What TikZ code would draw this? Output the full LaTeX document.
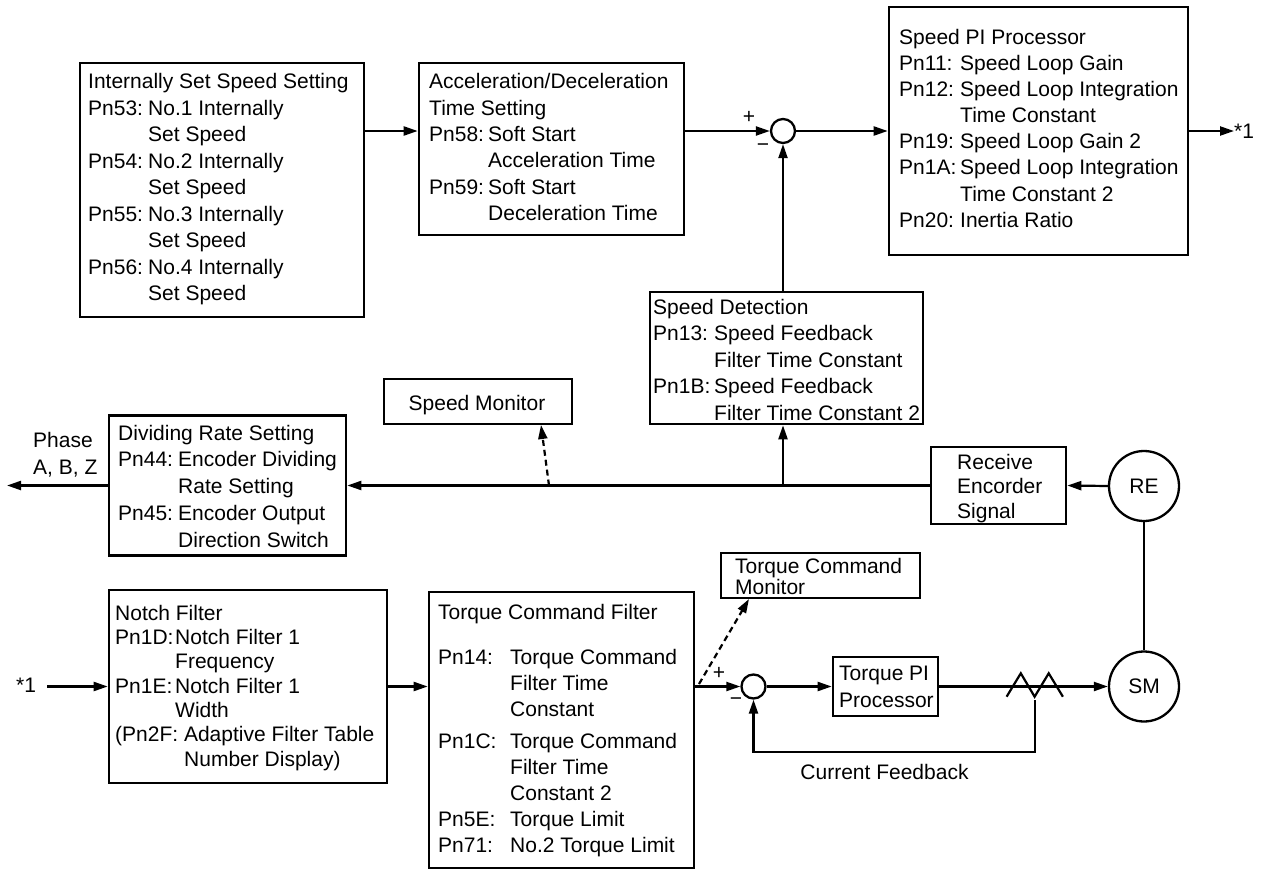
\documentclass[tikz,border=0pt]{standalone}
\usepackage{fontspec}
\setmainfont{Liberation Sans}
\usetikzlibrary{arrows.meta,calc}
\newcommand{\myfs}[1]{\fontsize{21pt}{#1pt}\selectfont}
\newcommand{\pnlab}[2]{\makebox[#1][l]{#2}}
\begin{document}
\begin{tikzpicture}[x=1pt,y=-1pt,
  box/.style={draw, line width=2.6pt, inner sep=0pt, rectangle},
  txt/.style={inner sep=0pt, anchor=north west, align=left},
  lbl/.style={inner sep=0pt, font=\myfs{26}},
  arr/.style={line width=2.2pt, -{Triangle[length=14pt,width=9pt]}},
  conn/.style={line width=2.2pt},
  darr/.style={arr, dash pattern=on 6pt off 4pt},
  sumc/.style={draw, circle, line width=2.3pt, minimum size=24pt, inner sep=0pt},
  bigc/.style={draw, circle, line width=2.3pt, minimum size=70pt, inner sep=0pt, font=\myfs{26}}]
\useasboundingbox (0,0) rectangle (1264,870);

% ---------- boxes ----------
\node[box, minimum width=284pt, minimum height=254pt] (b1) at (222,190) {};
\node[box, minimum width=265pt, minimum height=172pt] (b2) at (551.5,149) {};
\node[box, minimum width=299pt, minimum height=248pt] (spi) at (1038.5,131) {};
\node[box, minimum width=273pt, minimum height=132pt] (sdet) at (786.5,358) {};
\node[box, minimum width=188pt, minimum height=45pt] (smon) at (478,401.5) {};
\node[box, minimum width=237pt, minimum height=140pt] (div) at (227.5,485.5) {};
\node[box, minimum width=135pt, minimum height=77pt] (rec) at (998.5,485.5) {};
\node[box, minimum width=278pt, minimum height=193pt] (notch) at (248,686.5) {};
\node[box, minimum width=265pt, minimum height=276pt] (tcf) at (561.5,730) {};
\node[box, minimum width=199pt, minimum height=45pt] (tcm) at (820.5,575.5) {};
\node[box, minimum width=105pt, minimum height=59pt] (tpi) at (885.5,686.5) {};

\node[sumc] (s1) at (783,131) {};
\node[sumc] (s2) at (753.5,686.5) {};
\node[bigc] (re) at (1144,486) {RE};
\node[bigc] (sm) at (1144,686.5) {SM};

% ---------- texts ----------
\node[txt, font=\myfs{26.5}] (t1) at (88,72.7) {\rule{0pt}{16pt}Internally Set Speed Setting\\
\pnlab{60pt}{Pn53:}No.1 Internally\\ \hspace*{60pt}Set Speed\\
\pnlab{60pt}{Pn54:}No.2 Internally\\ \hspace*{60pt}Set Speed\\
\pnlab{60pt}{Pn55:}No.3 Internally\\ \hspace*{60pt}Set Speed\\
\pnlab{60pt}{Pn56:}No.4 Internally\\ \hspace*{60pt}Set Speed};

\node[txt, font=\myfs{26.3}] (t2) at (429,72.7) {\rule{0pt}{16pt}Acceleration/Deceleration\\
Time Setting\\
\pnlab{59pt}{Pn58:}Soft Start\\ \hspace*{59pt}Acceleration Time\\
\pnlab{59pt}{Pn59:}Soft Start\\ \hspace*{59pt}Deceleration Time};

\node[txt, font=\myfs{26.15}] (t3) at (899,28) {\rule{0pt}{16pt}Speed PI Processor\\
\pnlab{61pt}{Pn11:}Speed Loop Gain\\
\pnlab{61pt}{Pn12:}Speed Loop Integration\\ \hspace*{61pt}Time Constant\\
\pnlab{61pt}{Pn19:}Speed Loop Gain 2\\
\pnlab{61pt}{Pn1A:}Speed Loop Integration\\ \hspace*{61pt}Time Constant 2\\
\pnlab{61pt}{Pn20:}Inertia Ratio};

\node[txt, font=\myfs{26.5}] (t4) at (653,298) {\rule{0pt}{16pt}Speed Detection\\
\pnlab{61pt}{Pn13:}Speed Feedback\\ \hspace*{61pt}Filter Time Constant\\
\pnlab{61pt}{Pn1B:}Speed Feedback\\ \hspace*{61pt}Filter Time Constant 2};

\node[lbl, anchor=base] (t5) at (477,410) {Speed Monitor};

\node[txt, font=\myfs{26.7}] (t6) at (118,424) {\rule{0pt}{16pt}Dividing Rate Setting\\
\pnlab{60pt}{Pn44:}Encoder Dividing\\ \hspace*{60pt}Rate Setting\\
\pnlab{60pt}{Pn45:}Encoder Output\\ \hspace*{60pt}Direction Switch};

\node[txt, font=\myfs{27}] (ph) at (33,431) {\rule{0pt}{16pt}Phase\\A, B, Z};

\node[txt, font=\myfs{24.5}] (t7) at (957,453) {\rule{0pt}{16pt}Receive\\Encorder\\Signal};

\node[txt, font=\myfs{24.3}] (t8) at (115,604) {\rule{0pt}{16pt}Notch Filter\\
\pnlab{60pt}{Pn1D:}Notch Filter 1\\ \hspace*{60pt}Frequency\\
\pnlab{60pt}{Pn1E:}Notch Filter 1\\ \hspace*{60pt}Width\\
(Pn2F: Adaptive Filter Table\\ \hspace*{69pt}Number Display)};

\node[txt, font=\myfs{25.8}] (t9) at (438,603) {\rule{0pt}{16pt}Torque Command Filter\\[19.5pt]
\pnlab{72pt}{Pn14:}Torque Command\\ \hspace*{72pt}Filter Time\\ \hspace*{72pt}Constant\\[6.5pt]
\pnlab{72pt}{Pn1C:}Torque Command\\ \hspace*{72pt}Filter Time\\ \hspace*{72pt}Constant 2\\[1pt]
\pnlab{72pt}{Pn5E:}Torque Limit\\
\pnlab{72pt}{Pn71:}No.2 Torque Limit};

\node[txt, font=\myfs{21}] (t10) at (735,557) {\rule{0pt}{16pt}Torque Command\\Monitor};
\node[txt, font=\myfs{27}] (t11) at (839,664) {\rule{0pt}{16pt}Torque PI\\Processor};

\node[lbl, anchor=base west] (o1) at (1234,138) {*1};
\node[lbl, anchor=base west] (i1) at (16,692) {*1};
\node[lbl, anchor=base] (cf) at (884.5,779) {Current Feedback};

\node[lbl] (p1) at (749,117) {+};
\node[lbl] (m1) at (763,148) {−};
\node[lbl] (p2) at (719,673) {+};
\node[lbl] (m2) at (736,702) {−};

% ---------- coordinates ----------
\coordinate (pa) at (7,485.5);
\coordinate (dm1) at (549,485.5);
\coordinate (dm2) at (541,425);
\coordinate (dt1) at (699,684);
\coordinate (dt2) at (749,599);
\coordinate (i1e) at (47,686.5);
\coordinate (zz) at (1034.6,700);
\coordinate (fb) at (1034.6,751.7);

% ---------- connectors ----------
\draw[arr] (b1.east |- s1) -- (b2.west |- s1);
\draw[arr] (b2.east |- s1) -- (s1.west);
\draw[arr] (s1.east) -- (spi.west |- s1);
\draw[arr] (spi.east |- s1) -- (o1.west |- s1);
\draw[arr] (s1 |- sdet.north) -- (s1.south);
\draw[arr] (re.west) -- (rec.east);
\draw[arr] (rec.west) -- (div.east);
\draw[arr] (s1 |- rec.west) -- (s1 |- sdet.south);
\draw[darr] (dm1) -- (dm2);
\draw[arr] (div.west) -- (pa);
\draw[conn] (re.south) -- (sm.north);
\draw[arr] (i1e) -- (notch.west);
\draw[arr] (notch.east) -- (tcf.west |- notch.east);
\draw[arr] (tcf.east |- s2) -- (s2.west);
\draw[darr] (dt1) -- (dt2);
\draw[arr] (s2.east) -- (tpi.west |- s2);
\draw[arr] (tpi.east |- s2) -- (sm.west);
\draw[conn, line join=miter] (1006.6,696.7) -- (1020.8,673.3) -- (1034.6,696.7) -- (1048.7,673.3) -- (1062.9,696.7);
\draw[arr] (zz) -- (fb) -| (s2.south);
\end{tikzpicture}
\end{document}
